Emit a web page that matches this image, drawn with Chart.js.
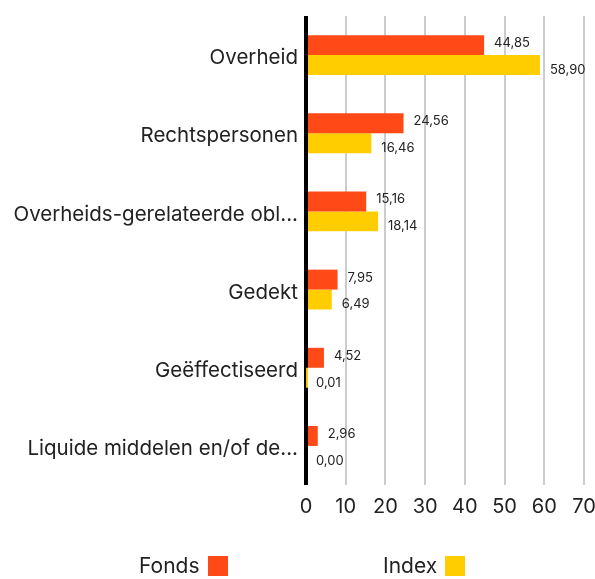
<!DOCTYPE html>
<html>
<head>
<meta charset="utf-8">
<script src="https://cdn.jsdelivr.net/npm/chart.js@4/dist/chart.umd.min.js"></script>
<style>
  html, body { margin: 0; padding: 0; background: #fff; }
  #wrap { position: relative; width: 595px; height: 579px; }
  .lg { position: absolute; top: 553px; font: 21px Inter, sans-serif; color: #222; display: flex; align-items: center; }
  .lg span.box { display: inline-block; width: 20px; height: 20px; margin-left: 8px; }
</style>
</head>
<body>
<div id="wrap">
  <canvas id="chart" width="595" height="579"></canvas>
  <div class="lg" style="left:139px">Fonds<span class="box" style="background:#ff4a17"></span></div>
  <div class="lg" style="left:383px">Index<span class="box" style="background:#ffcd00"></span></div>
</div>
<script>
// categorieën (afgekort zoals in de grafiek)
const categories = [
  'Overheid',
  'Rechtspersonen',
  'Overheids-gerelateerde obl...',
  'Gedekt',
  'Geëffectiseerd',
  'Liquide middelen en/of de...'
];
const fondsValues = [44.85, 24.56, 15.16, 7.95, 4.52, 2.96];
const indexValues = [58.90, 16.46, 18.14, 6.49, 0.01, 0.00];
const xTicks = [0, 10, 20, 30, 40, 50, 60, 70];

const FONT = 'Inter, sans-serif';

// waarden naast de balken
const valueLabels = {
  id: 'valueLabels',
  afterDatasetsDraw(chart) {
    const ctx = chart.ctx;
    ctx.save();
    ctx.font = '13px ' + FONT;
    ctx.fillStyle = '#222';
    ctx.textBaseline = 'middle';
    ctx.textAlign = 'left';
    chart.data.datasets.forEach((ds, i) => {
      const meta = chart.getDatasetMeta(i);
      const dy = i === 0 ? -2 : 5;
      meta.data.forEach((bar, j) => {
        const txt = ds.data[j].toFixed(2).replace('.', ',');
        ctx.fillText(txt, bar.x + 10, bar.y + dy);
      });
    });
    ctx.restore();
  }
};

new Chart(document.getElementById('chart'), {
  type: 'bar',
  data: {
    labels: categories,
    datasets: [
      { label: 'Fonds', data: fondsValues, backgroundColor: '#ff4a17' },
      { label: 'Index', data: indexValues, backgroundColor: '#ffcd00' }
    ]
  },
  options: {
    indexAxis: 'y',
    responsive: false,
    animation: false,
    categoryPercentage: 0.51,
    barPercentage: 1,
    layout: { padding: { top: 16, right: 0, left: 0, bottom: 0 } },
    plugins: { legend: { display: false }, tooltip: { enabled: false } },
    scales: {
      x: {
        min: 0,
        max: 70,
        afterBuildTicks: (scale) => { scale.ticks = xTicks.map(v => ({ value: v })); },
        afterFit: (scale) => { scale.height = 94; scale.paddingRight = 11; },
        border: { display: false },
        grid: {
          color: (c) => c.tick && c.tick.value === 0 ? '#000' : '#cccccc',
          lineWidth: (c) => c.tick && c.tick.value === 0 ? 4 : 2,
          drawTicks: false
        },
        ticks: { font: { family: FONT, size: 20 }, color: '#222', padding: 10, maxRotation: 0 }
      },
      y: {
        afterFit: (scale) => { scale.width = 306; },
        border: { display: false },
        grid: { display: false },
        ticks: { font: { family: FONT, size: 20.5 }, color: '#222', padding: 0, labelOffset: 3 }
      }
    }
  },
  plugins: [valueLabels]
});
</script>
</body>
</html>
